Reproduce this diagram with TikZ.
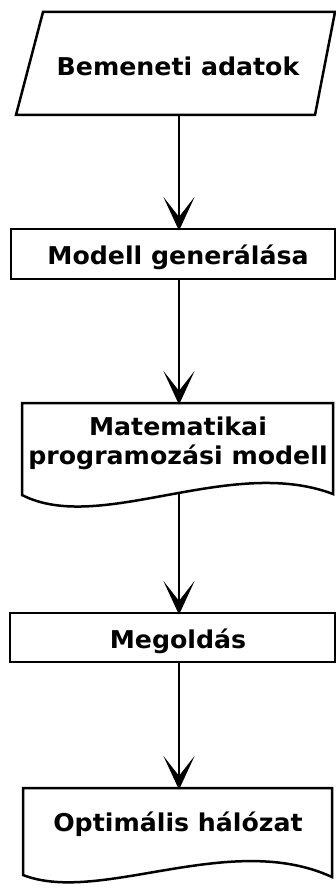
\documentclass[tikz,border=0pt]{standalone}
\usepackage{fontspec}
\setmainfont[FakeStretch=1.03]{DejaVu Sans}
\begin{document}
\begin{tikzpicture}[x=1pt,y=-1pt,
  shapeline/.style={draw=black,line width=2.5pt,line join=miter,fill=white},
  label/.style={font=\bfseries\fontsize{24.5}{29}\selectfont,align=center,inner sep=0pt},
  flow/.style={draw=black,line width=2.5pt},
  headdown/.pic={\filldraw[line width=1.4pt,line join=miter]
    (0,0) -- (-12.5,-27) -- (0,-11) -- (12.5,-27) -- cycle;}]
  \useasboundingbox (0,0) rectangle (336,888);
  % input data: parallelogram
  \draw[shapeline] (43,12) -- (335,12) -- (315,115) -- (16,115) -- cycle;
  \node[label] (input) at (178,66) {Bemeneti adatok};
  \coordinate (input-out) at (179,115);
  % model generation: process box
  \draw[shapeline] (11,229) rectangle (335,279);
  \node[label] (gen) at (178,257) {Modell generálása};
  \coordinate (gen-in) at (179,229);
  \coordinate (gen-out) at (179,279);
  % mathematical programming model: document shape
  \draw[shapeline] (22,403) -- (333,403) -- (333,494)
    .. controls (230,455) and (100,535) .. (22,495) -- cycle;
  \node[label] (model) at (178,443) {Matematikai\\programozási modell};
  \coordinate (model-in) at (179,403);
  \coordinate (model-out) at (179,492);
  % solution: process box
  \draw[shapeline] (10,613) rectangle (335,662);
  \node[label] (solve) at (178,641) {Megoldás};
  \coordinate (solve-in) at (179,613);
  \coordinate (solve-out) at (179,662);
  % optimal network: document shape
  \draw[shapeline] (23,788) -- (332,788) -- (332,877)
    .. controls (230,830) and (100,905) .. (23,875) -- cycle;
  \node[label] (result) at (178,824) {Optimális hálózat};
  \coordinate (result-in) at (179,788);
  % connectors, each ending in a barbed head
  \draw[flow] (input-out) -- (gen-in);
  \pic at (gen-in) {headdown};
  \draw[flow] (gen-out) -- (model-in);
  \pic at (model-in) {headdown};
  \draw[flow] (model-out) -- (solve-in);
  \pic at (solve-in) {headdown};
  \draw[flow] (solve-out) -- (result-in);
  \pic at (result-in) {headdown};
\end{tikzpicture}
\end{document}
